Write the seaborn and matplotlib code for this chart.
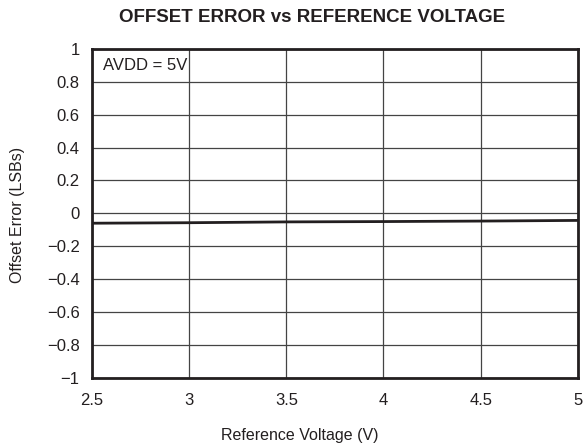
import numpy as np
import pandas as pd
import matplotlib
matplotlib.use("Agg")
import matplotlib.pyplot as plt
import seaborn as sns

# valores
ref_voltage = [2.5, 3.0, 3.5, 4.0, 4.5, 5.0]
offset_error = [-0.060, -0.057, -0.052, -0.050, -0.047, -0.043]
x_ticks = [2.5, 3, 3.5, 4, 4.5, 5]
x_labels = ["2.5", "3", "3.5", "4", "4.5", "5"]
y_ticks = [1, 0.8, 0.6, 0.4, 0.2, 0, -0.2, -0.4, -0.6, -0.8, -1]
y_labels = ["1", "0.8", "0.6", "0.4", "0.2", "0",
            "\u22120.2", "\u22120.4", "\u22120.6", "\u22120.8", "\u22121"]

sns.set_theme(style="white")
plt.rcParams['font.family'] = ['Liberation Sans', 'DejaVu Sans']
ink = "#231f20"

df = pd.DataFrame({"v": ref_voltage, "err": offset_error})

fig = plt.figure(figsize=(5.83, 4.44), dpi=100)
ax = fig.add_axes([0.158, 0.149, 0.833, 0.741])

sns.lineplot(data=df, x="v", y="err", ax=ax, color=ink, linewidth=2)

ax.set_xlim(2.5, 5)
ax.set_ylim(-1, 1)
ax.set_xticks(x_ticks)
ax.set_xticklabels(x_labels, fontsize=12, color=ink)
ax.set_yticks(y_ticks)
ax.set_yticklabels(y_labels, fontsize=12, color=ink)
ax.tick_params(axis="x", length=0, pad=11)
ax.tick_params(axis="y", length=0, pad=9)
ax.grid(True, color="#444444", linewidth=0.9)
for s in ax.spines.values():
    s.set_color(ink)
    s.set_linewidth(2)
ax.set_xlabel("")
ax.set_ylabel("")

ax.text(2.555, 0.9, "AVDD = 5V", fontsize=12, va="center", ha="left", color=ink)

fig.text(312 / 583, 1 - 17 / 444, "OFFSET ERROR vs REFERENCE VOLTAGE",
         ha="center", va="center", fontsize=13.5, fontweight="bold", color=ink)
fig.text(300 / 583, 1 - 435 / 444, "Reference Voltage (V)",
         ha="center", va="center", fontsize=11.5, color=ink)
fig.text(18 / 583, 1 - 215 / 444, "Offset Error (LSBs)",
         ha="center", va="center", fontsize=11.5, rotation=90, color=ink)

fig.savefig("out.png", dpi=100)
